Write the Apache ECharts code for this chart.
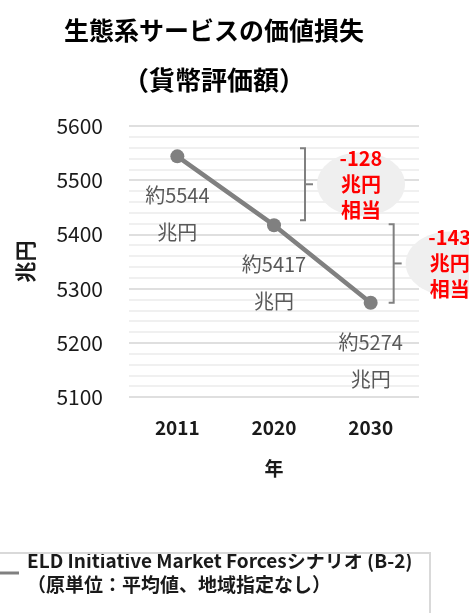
<!DOCTYPE html>
<html><head><meta charset="utf-8">
<script src="https://cdn.jsdelivr.net/npm/echarts@6/dist/echarts.min.js"></script>
<style>html,body{margin:0;padding:0;background:#fff}#c{width:469px;height:613px}</style>
</head><body><div id="c"></div>
<script>
// ---- data ----
const years = ['2011', '2020', '2030'];
const values = [5544, 5417, 5274];
const seriesName = 'ELD Initiative Market Forcesシナリオ (B-2)\n（原単位：平均値、地域指定なし）';
const diffTexts = ['-128', '-143'];
const diffUnit = ['兆円', '相当'];
const yMin = 5100, yMax = 5600, yStep = 100;

const FONT = '"Noto Sans CJK JP", "Noto Sans", sans-serif';
const chart = echarts.init(document.getElementById('c'), null, {renderer: 'canvas'});

const option = {
  animation: false,
  backgroundColor: '#fff',
  textStyle: {fontFamily: FONT},
  title: {
    text: '生態系サービスの価値損失', subtext: '（貨幣評価額）',
    left: 209, top: 8, textAlign: 'center', itemGap: 16,
    textStyle: {fontFamily: FONT, fontSize: 25, fontWeight: 'bold', color: '#000', lineHeight: 34},
    subtextStyle: {fontFamily: FONT, fontSize: 26, fontWeight: 'bold', color: '#000', lineHeight: 34}
  },
  grid: {left: 129, right: 50, top: 126, bottom: 216},
  xAxis: {
    type: 'category', data: years, boundaryGap: true,
    axisLine: {show: false}, axisTick: {show: false},
    axisLabel: {margin: 21, fontSize: 19, fontWeight: 'bold', color: '#1a1a1a', fontFamily: FONT},
    name: '年', nameLocation: 'middle', nameGap: 62,
    nameTextStyle: {fontSize: 19, fontWeight: 'bold', color: '#1a1a1a', fontFamily: FONT}
  },
  yAxis: {
    type: 'value', min: yMin, max: yMax, interval: yStep,
    axisLine: {show: false}, axisTick: {show: false},
    axisLabel: {margin: 26, fontSize: 21, color: '#1a1a1a', fontFamily: FONT, formatter: v => String(v)},
    splitLine: {lineStyle: {color: '#d4d4d4', width: 1.6}},
    minorTick: {show: false, splitNumber: 5},
    minorSplitLine: {show: true, lineStyle: {color: '#ebebeb', width: 1.6}},
    name: '兆円', nameLocation: 'middle', nameGap: 93,
    nameTextStyle: {fontSize: 21, fontWeight: 'bold', color: '#1a1a1a', fontFamily: FONT}
  },
  legend: {
    left: -6, top: 537, padding: 0, icon: 'rect', itemWidth: 25, itemHeight: 3,
    textStyle: {fontFamily: FONT, fontSize: 19, fontWeight: 'bold', color: '#1a1a1a', lineHeight: 24, padding: [24, 0, 0, 3]},
    data: [{name: seriesName, itemStyle: {color: '#808080'}}]
  },
  series: [{
    type: 'line', name: seriesName, data: values,
    symbol: 'circle', symbolSize: 14,
    lineStyle: {color: '#808080', width: 4.5},
    itemStyle: {color: '#808080'},
    label: {
      show: true, position: 'bottom', distance: 14,
      formatter: p => '約' + p.value + '\n兆円',
      fontSize: 20, lineHeight: 37, color: '#595959', fontFamily: FONT
    }
  }]
};
chart.setOption(option);

// ---- annotation brackets (positions derived from the data through the axes) ----
const bracketLayout = [
  {from: 0, to: 1, dx: 31, topAdj: -8, botAdj: -5},
  {from: 1, to: 2, dx: 23, topAdj: -1, botAdj: 0}
];
const g = [];
g.push({type: 'rect', z: 10, shape: {x: -10, y: 553, width: 440, height: 80},
  style: {fill: 'none', stroke: '#d9d9d9', lineWidth: 2}});
bracketLayout.forEach((b, i) => {
  const pTop = chart.convertToPixel({gridIndex: 0}, [b.from, values[b.from]]);
  const pBot = chart.convertToPixel({gridIndex: 0}, [b.to, values[b.to]]);
  const x = pBot[0] + b.dx;
  const top = pTop[1] + b.topAdj, bot = pBot[1] + b.botAdj;
  const mid = (top + bot) / 2;
  g.push({type: 'polyline', z: 10, shape: {points: [[x - 5, top], [x, top], [x, bot], [x - 5, bot]]},
    style: {fill: 'none', stroke: '#808080', lineWidth: 2}});
  g.push({type: 'line', z: 10, shape: {x1: x, y1: mid, x2: x + 8, y2: mid},
    style: {stroke: '#808080', lineWidth: 2}});
  const cx = x + 56;
  g.push({type: 'ellipse', z: 9, shape: {cx: cx, cy: mid, rx: 44, ry: 32}, style: {fill: '#efefef'}});
  g.push({type: 'text', z: 11, x: cx, y: mid, style: {
    text: [diffTexts[i]].concat(diffUnit).join('\n'),
    fill: '#ff0000', fontSize: 20, fontWeight: 'bold', fontFamily: FONT,
    align: 'center', verticalAlign: 'middle', lineHeight: 26}});
});
chart.setOption({graphic: {elements: g}});
</script></body></html>
